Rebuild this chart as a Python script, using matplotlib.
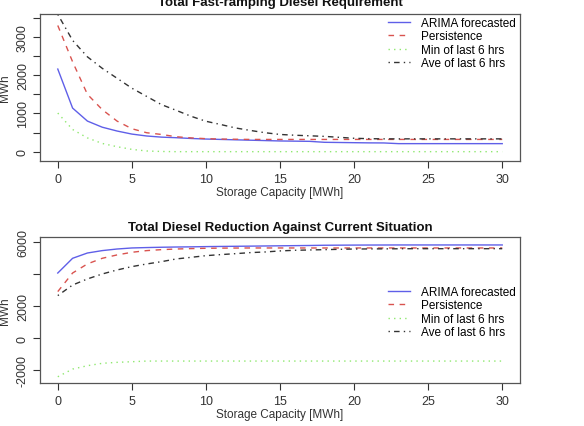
import matplotlib.pyplot as plt
import numpy as np

plt.rcParams['font.family'] = ['Liberation Sans', 'DejaVu Sans']

capacity = np.arange(0, 31)

# Total fast-ramping diesel requirement (MWh)
req_arima = [2160, 1140, 800, 640, 540, 460, 410, 380, 365, 345, 330, 320, 310, 300, 290, 280, 275, 270,
             245, 240, 235, 230, 228, 210, 210, 210, 210, 210, 210, 210, 210]
req_persist = [3300, 2350, 1500, 1100, 800, 600, 495, 450, 390, 360, 340, 330, 325, 320, 320, 320, 320, 320,
               320, 320, 320, 320, 320, 320, 320, 320, 320, 320, 320, 320, 320]
req_min = [1010, 580, 360, 215, 130, 60, 18, 5, 0, 0, 0, 0, 0, 0, 0, 0, 0, 0,
           0, 0, 0, 0, 0, 0, 0, 0, 0, 0, 0, 0, 0]
req_ave = [3590, 2910, 2480, 2180, 1920, 1660, 1445, 1230, 1080, 925, 795, 710, 620, 555, 495, 450, 430, 415,
           400, 375, 350, 340, 335, 335, 335, 335, 335, 335, 335, 335, 335]

# Total diesel reduction against current situation (MWh)
red_arima = [4080, 5000, 5330, 5480, 5580, 5645, 5670, 5690, 5705, 5715, 5730, 5740, 5750, 5760, 5770, 5780,
             5790, 5800, 5815, 5820, 5825, 5828, 5830, 5833, 5833, 5833, 5833, 5833, 5833, 5833, 5833]
red_persist = [2920, 4080, 4650, 5000, 5210, 5375, 5480, 5540, 5580, 5605, 5625, 5635, 5640, 5645, 5645, 5645,
               5645, 5645, 5645, 5645, 5645, 5645, 5645, 5645, 5645, 5645, 5645, 5645, 5645, 5645, 5645]
red_min = [-2400, -1920, -1710, -1560, -1500, -1460, -1420, -1420, -1420, -1420, -1420, -1420, -1420, -1420,
           -1420, -1420, -1420, -1420, -1420, -1420, -1420, -1420, -1420, -1420, -1420, -1420, -1420, -1420,
           -1420, -1420, -1420]
red_ave = [2670, 3330, 3710, 4020, 4270, 4480, 4645, 4790, 4960, 5060, 5165, 5230, 5290, 5355, 5395, 5460,
           5500, 5520, 5540, 5560, 5580, 5585, 5590, 5595, 5600, 5600, 5600, 5600, 5600, 5600, 5600]

labels = ['ARIMA forecasted', 'Persistence', 'Min of last 6 hrs', 'Ave of last 6 hrs']
colors = ['#5f5fe8', '#d9534f', '#8fe86f', '#333333']
dashes = [None, (4, 4), (1, 3), (1, 3, 4, 3)]

fig = plt.figure(figsize=(5.84, 4.27), dpi=100)
W, H = 584, 427


def panel(top, bottom, title, title_y, series, ylim, yticks, ylabels, leg_y):
    ax = fig.add_axes([40 / W, (H - bottom) / H, 480 / W, (bottom - top) / H])
    for s, lab, c, d in zip(series, labels, colors, dashes):
        line, = ax.plot(capacity, s, color=c, lw=1.0, label=lab)
        if d is not None:
            line.set_dashes(d)
    ax.set_xlim(-1.2, 31.2)
    ax.set_ylim(*ylim)
    ax.set_xticks(np.arange(0, 31, 5))
    ax.set_yticks(yticks)
    ax.set_yticklabels(ylabels, rotation=90, va='center')
    ax.tick_params(colors='#333333', labelsize=9, length=5, width=0.8, pad=4)
    ax.tick_params(axis='y', pad=3)
    for sp in ax.spines.values():
        sp.set_color('#555555')
        sp.set_linewidth(0.9)
    ax.set_ylabel('MWh', fontsize=8.5, color='#333333')
    ax.yaxis.set_label_coords(-29 / 480, 0.5)
    fig.text(280 / W, (H - title_y) / H, title, ha='center', va='center',
             fontsize=9.5, fontweight='bold', color='#111111')
    fig.text(280 / W, (H - bottom - 31) / H, 'Storage Capacity [MWh]', ha='center', va='center',
             fontsize=8.5, color='#333333')
    ax.legend(loc='upper left', bbox_to_anchor=(388 / W, (H - leg_y + 7) / H), bbox_transform=fig.transFigure,
              frameon=False, fontsize=8.5, handlelength=1.9, handletextpad=0.9, labelspacing=0.12,
              borderpad=0, borderaxespad=0)
    return ax


panel(15, 162, 'Total Fast-ramping Diesel Requirement', 3,
      [req_arima, req_persist, req_min, req_ave], (-244, 3600),
      np.arange(0, 3501, 500), ['0', '', '1000', '', '2000', '', '3000', ''], 25)
panel(238, 384, 'Total Diesel Reduction Against Current Situation', 228,
      [red_arima, red_persist, red_min, red_ave], (-2790, 6330),
      [-2000, 0, 2000, 4000, 6000], ['-2000', '0', '2000', '', '6000'], 294)

fig.savefig('out.png', dpi=100)
